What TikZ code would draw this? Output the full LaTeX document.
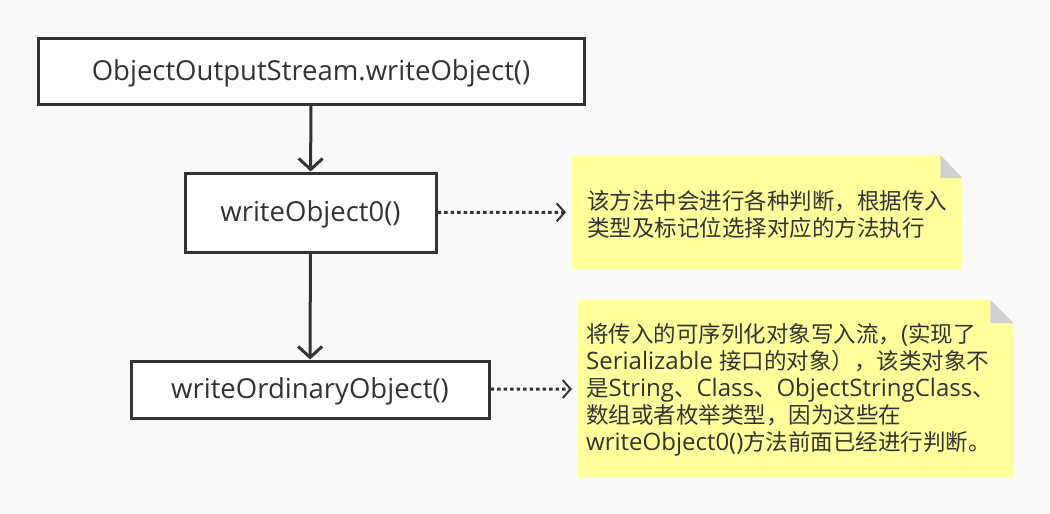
\documentclass[tikz,border=0pt]{standalone}
\usepackage{fontspec}
\setmainfont{Open Sans}
\newfontfamily\cjk{Noto Sans CJK SC}
\usetikzlibrary{arrows.meta,positioning}
\definecolor{linegray}{HTML}{333333}
\definecolor{notefill}{HTML}{FFFF9C}
\definecolor{foldgray}{HTML}{D0D0D0}
\definecolor{bggray}{HTML}{F9F9F9}
\newcommand\zh[1]{{\cjk\fontsize{22.5}{27}\selectfont #1}}
\tikzset{
  callbox/.style={draw=linegray, line width=3pt, fill=white, inner sep=0pt, text=linegray, text height=20pt, text depth=2pt, font=\fontsize{27.5}{30}\selectfont},
  flow/.style={draw=linegray, line width=3pt, -{Straight Barb[length=11pt,width=24pt,line width=3pt]}},
  hint/.style={draw=linegray, line width=3pt, dash pattern=on 3.5pt off 3pt, shorten >=6pt, -{Straight Barb[length=8pt,width=18pt,line width=2pt]}},
  notearea/.style={inner sep=0pt, anchor=north west},
  notetext/.style={inner sep=0pt, anchor=west, align=left, text=linegray, font=\fontsize{24}{27}\selectfont}
}
\begin{document}
\begin{tikzpicture}[x=1pt,y=-1pt]
\useasboundingbox (0,0) rectangle (1050,514);
\fill [bggray] (0,0) rectangle (1050,514);
% call chain
\node [callbox, minimum width=546pt, minimum height=66pt] (stream) at (311,71) {ObjectOutputStream.writeObject()};
\node [callbox, minimum width=251pt, minimum height=79pt] (dispatch) at (310.5,212.5) {writeObject0()};
\node [callbox, minimum width=358pt, minimum height=57pt] (ordinary) at (310,389.5) {writeOrdinaryObject()};
\draw [flow] (stream) -- (dispatch);
\draw [flow] (dispatch) -- (ordinary);
% notes
\node [notearea, minimum width=390pt, minimum height=114pt] (note1) at (572,155) {};
\fill [notefill] (note1.north west) -- ([xshift=-22pt]note1.north east) -- ([yshift=-23pt]note1.north east) -- (note1.south east) -- (note1.south west) -- cycle;
\fill [foldgray] ([xshift=-22pt]note1.north east) -- ([yshift=-23pt]note1.north east) -- ([xshift=-22pt,yshift=-23pt]note1.north east) -- cycle;
\node [notetext] at (587,214) {\zh{该方法中会进行各种判断，根据传入}\\\zh{类型及标记位选择对应的方法执行}};
\node [notearea, minimum width=435pt, minimum height=177pt] (note2) at (578,300) {};
\fill [notefill] (note2.north west) -- ([xshift=-23pt]note2.north east) -- ([yshift=-23pt]note2.north east) -- (note2.south east) -- (note2.south west) -- cycle;
\fill [foldgray] ([xshift=-23pt]note2.north east) -- ([yshift=-23pt]note2.north east) -- ([xshift=-23pt,yshift=-23pt]note2.north east) -- cycle;
\node [notetext] at (586,390) {\zh{将传入的可序列化对象写入流，}(\zh{实现了}\\
  Serializable \zh{接口的对象），该类对象不}\\
  \zh{是}String\zh{、}Class\zh{、}ObjectStringClass\zh{、}\\
  \zh{数组或者枚举类型，因为这些在}\\
  writeObject0()\zh{方法前面已经进行判断。}};
\draw [hint] (dispatch) -- (note1);
\draw [hint] (ordinary) -- (note2);
\end{tikzpicture}
\end{document}
